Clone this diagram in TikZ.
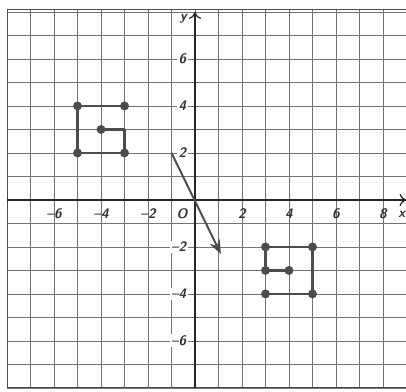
\documentclass[tikz,border=0pt]{standalone}
\usepackage{tikz}
\usetikzlibrary{arrows.meta}

\begin{document}
\begin{tikzpicture}[x=0.6cm,y=0.6cm,
  dot/.style={circle,fill=black!70,inner sep=0pt,minimum size=6.5pt},
  figline/.style={black!70,line width=2pt,line join=round},
  lbl/.style={font=\sffamily\bfseries\itshape,text=black!80}]
\useasboundingbox (-8.3,-8.17) rectangle (8.98,8.51);
% graph paper
\draw[black!55,line width=0.5pt,step=0.6cm] (-8,-8) grid (9,8.1);
\draw[black!70,line width=0.6pt] (-8,-8) -- (-8,8.1) -- (9,8.1);
\draw[black!70,line width=0.6pt] (-8,-8) -- (9,-8);
% axes
\draw[black!85,line width=0.9pt,-{To[length=5pt,width=9pt]}] (-8,0) -- (9,0);
\draw[black!85,line width=0.9pt,-{To[length=5pt,width=9pt]}] (0,-8) -- (0,8);
\node[lbl] (xl) at (8.8,-0.6) {x};
\node[lbl] (yl) at (-0.5,7.7) {y};
\node[lbl] (o) at (-0.55,-0.6) {O};
\foreach \i/\t in {-6/\textendash6,-4/\textendash4,-2/\textendash2,2/2,4/4,6/6,8/8}
  \node[lbl] (x\i) at (\i,-0.6) {\t};
\foreach \i/\t in {-6/\textendash6,-4/\textendash4,-2/\textendash2,2/2,4/4,6/6}
  \node[lbl,anchor=east,fill=white,inner sep=1pt] (y\i) at (-0.3,\i) {\t};

% original figure
\node[dot] (a1) at (-3,4) {};
\node[dot] (a2) at (-5,4) {};
\node[dot] (a3) at (-5,2) {};
\node[dot] (a4) at (-3,2) {};
\coordinate (a5) at (-3,3);
\node[dot] (a6) at (-4,3) {};
\draw[figline] (a1.center) -- (a2.center) -- (a3.center) -- (a4.center) -- (a5) -- (a6.center);

% image
\node[dot] (b1) at (4,-3) {};
\node[dot] (b2) at (3,-3) {};
\node[dot] (b3) at (3,-2) {};
\node[dot] (b4) at (5,-2) {};
\node[dot] (b5) at (5,-4) {};
\node[dot] (b6) at (3,-4) {};
\draw[figline] (b1.center) -- (b2.center) -- (b3.center) -- (b4.center) -- (b5.center) -- (b6.center);

% translation arrow
\coordinate (p) at (-1,2);
\coordinate (q) at (1.1,-2.3);
\draw[black!70,line width=1.4pt,-{Stealth[length=10pt,width=8pt]}] (p) -- (q);
\end{tikzpicture}
\end{document}
